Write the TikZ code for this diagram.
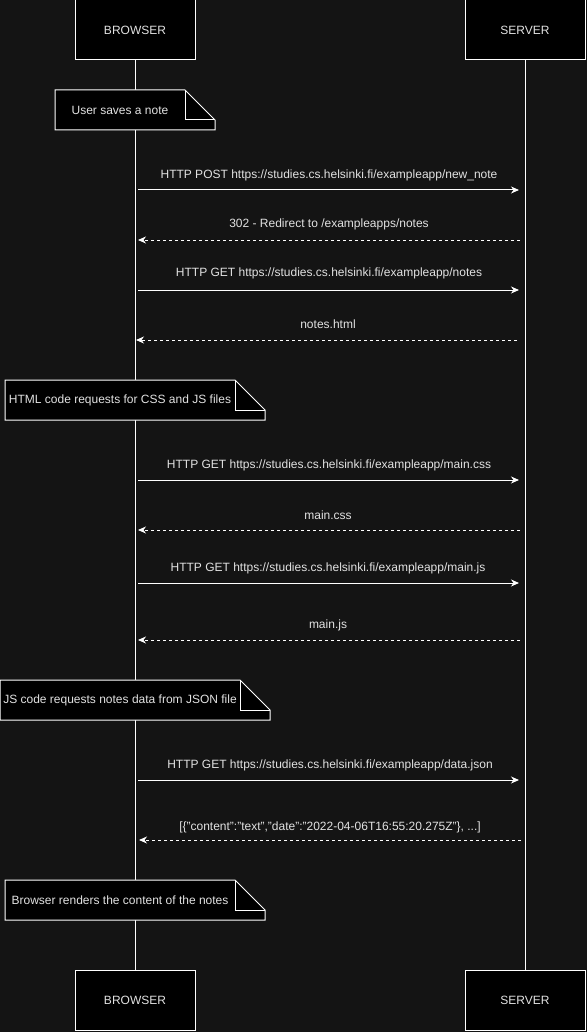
\documentclass[tikz,border=0pt]{standalone}
\usepackage{fontspec}
\setmainfont{Liberation Sans}
\usetikzlibrary{arrows.meta}
\definecolor{bg}{HTML}{141414}
\definecolor{txt}{HTML}{E2E2E2}
\tikzset{
  lifebox/.style={draw=white, fill=black, line width=1pt, minimum width=120pt, minimum height=60pt, text=txt, inner sep=0pt},
  lifeline/.style={draw=white, line width=1pt},
  msg/.style={draw=white, line width=1pt, -{Stealth[length=8pt,width=7pt,inset=2.5pt]}},
  ret/.style={msg, dash pattern=on 3pt off 3pt},
  lbl/.style={text=txt, inner sep=0pt},
  notebody/.style={draw=white, fill=black, line width=1pt, line join=miter},
  notefold/.style={draw=white, line width=1pt},
}
\newcommand{\mynote}[6]{% name, x0, y0, x1, y1, text
  \path[notebody] (#2,#3) -- (#4-30,#3) -- (#4,#3+30) -- (#4,#5) -- (#2,#5) -- cycle;
  \draw[notefold] (#4-30,#3) -- (#4-30,#3+30) -- (#4,#3+30);
  \node[lbl] (#1) at ({(#2+#4-30)/2},{(#3+#5)/2}) {#6};
}
\begin{document}
\begin{tikzpicture}[x=1pt,y=-1pt,font=\fontsize{12}{14}\selectfont]
\fill[bg] (0,0) rectangle (587,1032);
\useasboundingbox (0,0) rectangle (587,1032);

\node[lifebox] (bt) at (135,30) {BROWSER};
\node[lifebox] (st) at (525,30) {SERVER};
\node[lifebox] (bb) at (135,1000) {BROWSER};
\node[lifebox] (sb) at (525,1000) {SERVER};
\draw[lifeline] (bt.south) -- (bb.north);
\draw[lifeline] (st.south) -- (sb.north);

\mynote{n1}{55}{90}{215}{130}{User saves a note}
\mynote{n2}{5}{380}{265}{420}{HTML code requests for CSS and JS files}
\mynote{n3}{0}{680}{270}{720}{JS code requests notes data from JSON file}
\mynote{n4}{5}{880}{265}{920}{Browser renders the content of the notes}

% message coordinates
\coordinate (b1) at (138,190); \coordinate (s1) at (519,190);
\coordinate (s2) at (520,240); \coordinate (b2) at (138,240);
\coordinate (b3) at (138,290); \coordinate (s3) at (519,290);
\coordinate (s4) at (517,340); \coordinate (b4) at (136,340);
\coordinate (b5) at (138,480); \coordinate (s5) at (519,480);
\coordinate (s6) at (520,530); \coordinate (b6) at (138,530);
\coordinate (b7) at (138,583); \coordinate (s7) at (519,583);
\coordinate (s8) at (520,640); \coordinate (b8) at (138,640);
\coordinate (b9) at (138,780); \coordinate (s9) at (519,780);
\coordinate (s10) at (521,840); \coordinate (b10) at (139,840);

\draw[msg] (b1) -- (s1);
\draw[ret] (s2) -- (b2);
\draw[msg] (b3) -- (s3);
\draw[ret] (s4) -- (b4);
\draw[msg] (b5) -- (s5);
\draw[ret] (s6) -- (b6);
\draw[msg] (b7) -- (s7);
\draw[ret] (s8) -- (b8);
\draw[msg] (b9) -- (s9);
\draw[ret] (s10) -- (b10);

\node[lbl] (l1) at (329,175) {HTTP POST https://studies.cs.helsinki.fi/exampleapp/new\_note};
\node[lbl] (l2) at (329,224) {302 - Redirect to /exampleapps/notes};
\node[lbl] (l3) at (329,273) {HTTP GET https://studies.cs.helsinki.fi/exampleapp/notes};
\node[lbl] (l4) at (328,324) {notes.html};
\node[lbl] (l5) at (329,465) {HTTP GET https://studies.cs.helsinki.fi/exampleapp/main.css};
\node[lbl] (l6) at (328,515) {main.css};
\node[lbl] (l7) at (328,568) {HTTP GET https://studies.cs.helsinki.fi/exampleapp/main.js};
\node[lbl] (l8) at (328,625) {main.js};
\node[lbl] (l9) at (330,765) {HTTP GET https://studies.cs.helsinki.fi/exampleapp/data.json};
\node[lbl] (l10) at (330,827) {[\{"content":"text","date":"2022-04-06T16:55:20.275Z"\}, ...]};
\end{tikzpicture}
\end{document}
